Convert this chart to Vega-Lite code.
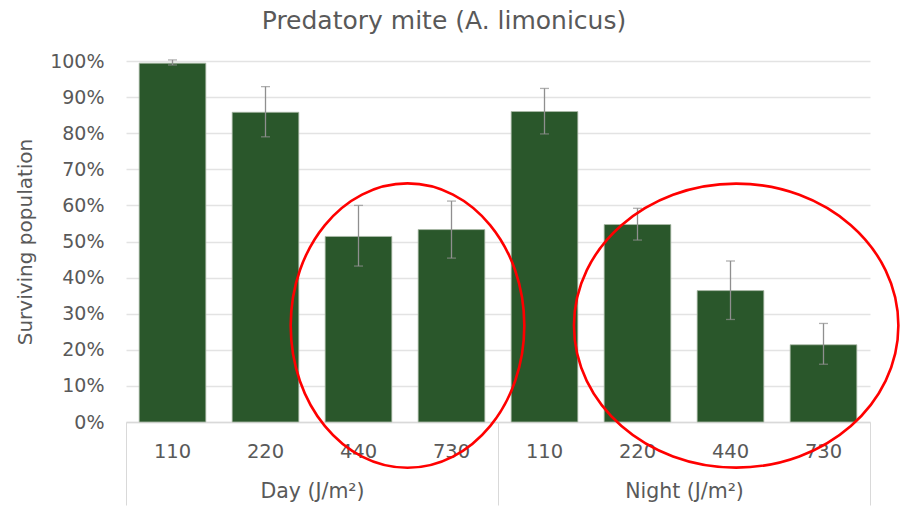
{
  "$schema": "https://vega.github.io/schema/vega-lite/v6.json",
  "autosize": {"type": "none"},
  "width": 744,
  "height": 361,
  "padding": {"left": 126, "top": 61, "right": 30, "bottom": 84},
  "background": "white",
  "config": {"font": "DejaVu Sans", "view": {"stroke": null}},
  "title": {"text": "Predatory mite (A. limonicus)", "fontSize": 25, "fontWeight": "normal", "color": "#595959", "anchor": "middle", "dx": -54, "baseline": "alphabetic", "offset": -1.5},
  "datasets": {
    "bars": [
      {"cond": "Day 110", "value": 0.994, "lo": 0.989, "hi": 1.003},
      {"cond": "Day 220", "value": 0.858, "lo": 0.790, "hi": 0.929},
      {"cond": "Day 440", "value": 0.514, "lo": 0.432, "hi": 0.600},
      {"cond": "Day 730", "value": 0.533, "lo": 0.454, "hi": 0.612},
      {"cond": "Night 110", "value": 0.860, "lo": 0.798, "hi": 0.924},
      {"cond": "Night 220", "value": 0.547, "lo": 0.504, "hi": 0.592},
      {"cond": "Night 440", "value": 0.364, "lo": 0.284, "hi": 0.446},
      {"cond": "Night 730", "value": 0.214, "lo": 0.160, "hi": 0.273}
    ],
    "ellipses": [
      {"name": "day", "x": 3.027, "y": 0.267},
      {"name": "night", "x": 6.561, "y": 0.267}
    ]
  },
  "layer": [
    {
      "data": {"name": "bars"},
      "encoding": {
        "x": {
          "field": "cond", "type": "nominal", "sort": null,
          "scale": {"paddingInner": 0.283, "paddingOuter": 0.1415},
          "axis": {"title": null, "labelExpr": "split(datum.label, ' ')[1]", "ticks": false, "tickSize": 0, "domain": true, "domainColor": "#d9d9d9", "domainWidth": 1.3, "labelAngle": 0, "labelPadding": 35, "labelBaseline": "alphabetic", "labelFontSize": 19.5, "labelColor": "#595959"}
        }
      },
      "layer": [
        {
          "mark": {"type": "bar", "color": "#2a572b", "stroke": "#aebcab", "strokeWidth": 0.8},
          "encoding": {
            "y": {
              "field": "value", "type": "quantitative", "title": "Surviving population",
              "scale": {"domain": [0, 1], "nice": false},
              "axis": {"format": ".0%", "values": [0, 0.1, 0.2, 0.3, 0.4, 0.5, 0.6, 0.7, 0.8, 0.9, 1], "labelOverlap": false, "grid": true, "gridColor": "#e3e3e3", "gridWidth": 1.5, "domain": false, "ticks": false, "tickSize": 0, "labelPadding": 22, "labelFontSize": 19, "labelColor": "#595959", "titleFontSize": 20, "titleFontWeight": "normal", "titleColor": "#595959", "titleX": -95, "titleY": 180.5, "titleAngle": -90, "titleBaseline": "alphabetic", "titleAlign": "center"}
            }
          }
        },
        {
          "mark": {"type": "errorbar", "ticks": true, "size": 9, "thickness": 1.3, "color": "#8f8f8f"},
          "encoding": {
            "y": {
              "field": "lo", "type": "quantitative", "title": "Surviving population",
              "scale": {"domain": [0, 1], "nice": false},
              "axis": {"format": ".0%", "values": [0, 0.1, 0.2, 0.3, 0.4, 0.5, 0.6, 0.7, 0.8, 0.9, 1], "labelOverlap": false, "grid": true, "gridColor": "#e3e3e3", "gridWidth": 1.5, "domain": false, "ticks": false, "tickSize": 0, "labelPadding": 22, "labelFontSize": 19, "labelColor": "#595959", "titleFontSize": 20, "titleFontWeight": "normal", "titleColor": "#595959", "titleX": -95, "titleY": 180.5, "titleAngle": -90, "titleBaseline": "alphabetic", "titleAlign": "center"}
            },
            "y2": {"field": "hi"}
          }
        }
      ]
    },
    {
      "data": {"name": "ellipses"},
      "encoding": {
        "x": {
          "field": "x", "type": "quantitative",
          "scale": {"domain": [0, 8], "nice": false, "zero": false},
          "axis": {"orient": "bottom", "values": [0, 2, 4, 6, 8], "grid": false, "domain": false, "ticks": true, "tickSize": 83, "tickColor": "#d9d9d9", "tickWidth": 1, "tickOpacity": {"condition": {"test": "datum.value % 4 === 0", "value": 1}, "value": 0}, "labelExpr": "datum.value === 2 ? 'Day (J/m²)' : datum.value === 6 ? 'Night (J/m²)' : ''", "labelPadding": -8, "labelBaseline": "alphabetic", "labelFontSize": 20.5, "labelColor": "#595959", "labelFlush": false, "labelOverlap": false, "title": null}
        },
        "y": {
          "field": "y", "type": "quantitative", "title": "Surviving population",
          "scale": {"domain": [0, 1], "nice": false},
          "axis": {"format": ".0%", "values": [0, 0.1, 0.2, 0.3, 0.4, 0.5, 0.6, 0.7, 0.8, 0.9, 1], "labelOverlap": false, "grid": true, "gridColor": "#e3e3e3", "gridWidth": 1.5, "domain": false, "ticks": false, "tickSize": 0, "labelPadding": 22, "labelFontSize": 19, "labelColor": "#595959", "titleFontSize": 20, "titleFontWeight": "normal", "titleColor": "#595959", "titleX": -95, "titleY": 180.5, "titleAngle": -90, "titleBaseline": "alphabetic", "titleAlign": "center"}
        }
      },
      "layer": [
        {
          "transform": [{"filter": "datum.name === 'day'"}],
          "mark": {"type": "point", "shape": "M 0.8214 0 C 0.8214 0.5523 0.4537 1 0 1 C -0.4537 1 -0.8214 0.5523 -0.8214 0 C -0.8214 -0.5523 -0.4537 -1 0 -1 C 0.4537 -1 0.8214 -0.5523 0.8214 0 Z", "size": 80883, "filled": false, "color": "#ff0000", "strokeWidth": 2.6, "opacity": 1}
        },
        {
          "transform": [{"filter": "datum.name === 'night'"}],
          "mark": {"type": "point", "shape": "M 1 0 C 1 0.4835 0.5523 0.8755 0 0.8755 C -0.5523 0.8755 -1 0.4835 -1 0 C -1 -0.4835 -0.5523 -0.8755 0 -0.8755 C 0.5523 -0.8755 1 -0.4835 1 0 Z", "size": 105235, "filled": false, "color": "#ff0000", "strokeWidth": 2.6, "opacity": 1}
        }
      ]
    }
  ],
  "resolve": {"scale": {"x": "independent"}, "axis": {"x": "independent"}}
}
